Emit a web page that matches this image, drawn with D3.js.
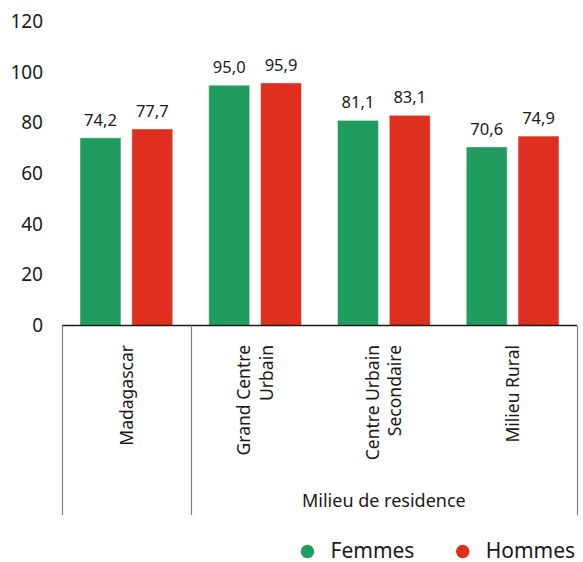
<!DOCTYPE html>
<html>
<head>
<meta charset="utf-8">
<script src="https://cdn.jsdelivr.net/npm/d3@7"></script>
<style>
  html, body { margin: 0; padding: 0; background: #fff; }
  svg { display: block; font-family: "Noto Sans", "Open Sans", sans-serif; }
</style>
</head>
<body>
<svg id="chart" width="583" height="562"></svg>
<script>
// ---- data ----
const categories = ["Madagascar", "Grand Centre Urbain", "Centre Urbain Secondaire", "Milieu Rural"];
const categoryLines = [["Madagascar"], ["Grand Centre", "Urbain"], ["Centre Urbain", "Secondaire"], ["Milieu Rural"]];
const series = ["Femmes", "Hommes"];
const femmes = [74.2, 95.0, 81.1, 70.6];
const hommes = [77.7, 95.9, 83.1, 74.9];
const yTicks = [0, 20, 40, 60, 80, 100, 120];
const groupNames = ["", "Milieu de residence"];
const groupStart = [0, 1];
const groupEnd = [0, 3];
const colors = ["#209c5e", "#df301f"];

// ---- layout ----
const svg = d3.select("#chart");
const plotLeft = 62, plotRight = 577, plotBase = 325.5, plotTop = 22;
const x0 = d3.scaleBand().domain(categories).range([plotLeft, plotRight]).paddingInner(0).paddingOuter(0);
const bw = x0.bandwidth();
const x1 = d3.scaleBand().domain(series).range([18, bw - 18]).paddingInner(0.21).paddingOuter(0);
const y = d3.scaleLinear().domain([0, 120]).range([plotBase, plotTop]);

const values = [femmes, hommes];
const fmt = v => d3.format(".1f")(v).replace(".", ",");

// y tick labels
const yAxis = d3.axisLeft(y).tickValues(yTicks).tickSize(0).tickPadding(0).tickFormat(d3.format("d"));
const gy = svg.append("g").attr("transform", `translate(43,0)`).call(yAxis);
gy.select(".domain").remove();
gy.selectAll("text")
  .attr("font-family", "'Noto Sans', sans-serif")
  .attr("font-size", 19)
  .attr("fill", "#1a1a1a")
  .attr("dy", "0.3em");

// bars
const groups = svg.append("g").selectAll("g")
  .data(categories)
  .join("g")
  .attr("transform", d => `translate(${x0(d)},0)`);

groups.each(function(cat, ci) {
  const g = d3.select(this);
  series.forEach((s, si) => {
    const v = values[si][ci];
    g.append("rect")
      .attr("x", x1(s))
      .attr("y", y(v))
      .attr("width", x1.bandwidth())
      .attr("height", y(0) - y(v))
      .attr("fill", colors[si])
      .attr("stroke", "#ffffff")
      .attr("stroke-opacity", 0.45)
      .attr("stroke-width", 1);
    g.append("text")
      .attr("x", x1(s) + x1.bandwidth() / 2)
      .attr("y", y(v) - 12)
      .attr("text-anchor", "middle")
      .attr("font-size", 16.5)
      .attr("fill", "#1a1a1a")
      .text(fmt(v));
  });
});

// x axis baseline
svg.append("line")
  .attr("x1", plotLeft).attr("x2", plotRight)
  .attr("y1", plotBase).attr("y2", plotBase)
  .attr("stroke", "#1a1a1a").attr("stroke-width", 1.5);

// group divider lines
const bottomY = 515;
const dividers = [plotLeft];
groupEnd.forEach(e => dividers.push(x0(categories[e]) + bw));
svg.append("g").selectAll("line")
  .data(dividers)
  .join("line")
  .attr("x1", d => Math.round(d) + 0.5).attr("x2", d => Math.round(d) + 0.5)
  .attr("y1", plotBase).attr("y2", bottomY)
  .attr("stroke", "#808080").attr("stroke-width", 1.2);

// category labels (rotated)
categories.forEach((cat, ci) => {
  const lines = categoryLines[ci];
  const cx = x0(cat) + bw / 2;
  const t = svg.append("text")
    .attr("transform", `translate(${cx},345) rotate(-90)`)
    .attr("text-anchor", "end")
    .attr("font-size", 17.5)
    .attr("fill", "#1a1a1a");
  const lh = 1.3;
  lines.forEach((ln, li) => {
    t.append("tspan")
      .attr("x", 0)
      .attr("dy", li === 0 ? `${0.35 - (lines.length - 1) * lh / 2}em` : `${lh}em`)
      .text(ln);
  });
});

// group labels
groupNames.forEach((name, gi) => {
  if (!name) return;
  const gx = (x0(categories[groupStart[gi]]) + x0(categories[groupEnd[gi]]) + bw) / 2;
  svg.append("text")
    .attr("x", gx).attr("y", 507)
    .attr("text-anchor", "middle")
    .attr("font-size", 18)
    .attr("fill", "#1a1a1a")
    .text(name);
});

// legend
const legendX = [307.5, 462.7];
const leg = svg.append("g");
series.forEach((s, si) => {
  leg.append("circle")
    .attr("cx", legendX[si]).attr("cy", 551.5).attr("r", 6.7)
    .attr("fill", colors[si]);
  leg.append("text")
    .attr("x", legendX[si] + 23).attr("y", 557.5)
    .attr("font-size", 21)
    .attr("fill", "#1a1a1a")
    .text(s);
});
</script>
</body>
</html>
